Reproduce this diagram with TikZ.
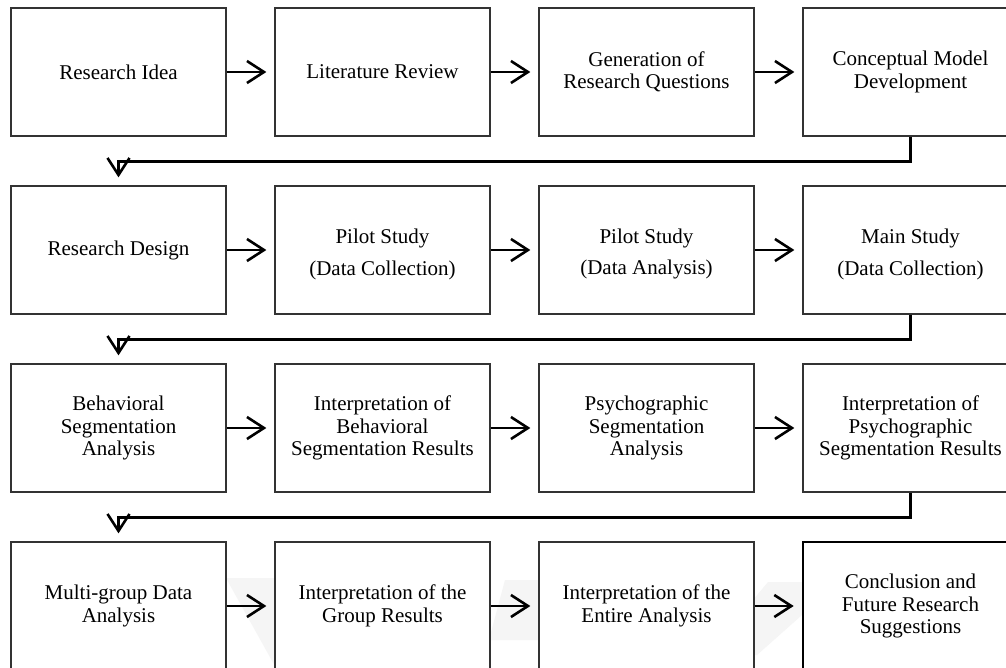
\documentclass[tikz,border=0pt]{standalone}
\usepackage{fontspec}
\setmainfont{Liberation Serif}
\usetikzlibrary{arrows.meta,calc}

\tikzset{
  stage/.style={rectangle, draw=black!80, line width=1.3pt, fill=white,
    minimum width=215pt, minimum height=128pt, inner sep=2pt, align=center,
    font=\fontsize{21}{22.5}\selectfont},
  finalstage/.style={stage, draw=black, line width=2.6pt},
  flow/.style={line width=2.6pt, black, shorten >=8pt,
    -{Straight Barb[length=17pt, width=22pt, line width=2.6pt]}},
  wmark/.style={fill=black!4, draw=none}
}
% strut that lowers a two-line label a little
\newcommand{\toplift}{\rule{0pt}{23pt}}

\begin{document}
\begin{tikzpicture}[x=1pt, y=-1pt]
\useasboundingbox (0,0) rectangle (1006,668);
\fill[white] (0,0) rectangle (1006,668);

% faint background emblem
\fill[wmark] (226,578) -- (300,578) -- (360,668) -- (276,668) -- cycle;
\fill[wmark] (505,580) -- (560,580) -- (540,640) -- (489,640) -- cycle;
\fill[wmark] (768,582) -- (802,582) -- (802,615) -- (757,655) -- (753,655) -- (753,600) -- cycle;

% row 1
\node[stage] (a1) at (118.5,72) {Research Idea};
\node[stage] (a2) at (382.5,72) {Literature Review};
\node[stage] (a3) at (646.5,72) {Generation of\\Research Questions};
\node[stage] (a4) at (910.5,72) {Conceptual Model\\Development};

% row 2
\node[stage] (b1) at (118.5,250) {Research Design};
\node[stage] (b2) at (382.5,250) {\toplift Pilot Study\\[9pt](Data Collection)};
\node[stage] (b3) at (646.5,250) {\toplift Pilot Study\\[9pt](Data Analysis)};
\node[stage] (b4) at (910.5,250) {\toplift Main Study\\[9pt](Data Collection)};

% row 3
\node[stage] (c1) at (118.5,428) {Behavioral\\Segmentation\\Analysis};
\node[stage] (c2) at (382.5,428) {Interpretation of\\Behavioral\\Segmentation Results};
\node[stage] (c3) at (646.5,428) {Psychographic\\Segmentation\\Analysis};
\node[stage] (c4) at (910.5,428) {Interpretation of\\Psychographic\\Segmentation Results};

% row 4
\node[stage] (d1) at (118.5,606) {Multi-group Data\\Analysis};
\node[stage] (d2) at (382.5,606) {Interpretation of the\\Group Results};
\node[stage] (d3) at (646.5,606) {Interpretation of the\\Entire Analysis};
\node[finalstage] (d4) at (910.5,606) {Conclusion and\\Future Research\\Suggestions};

% arrows along each row
\foreach \r in {a,b,c,d}{
  \draw[flow] (\r1.east) -- (\r2.west);
  \draw[flow] (\r2.east) -- (\r3.west);
  \draw[flow] (\r3.east) -- (\r4.west);
}

% links from the end of one row to the start of the next
\draw[flow] (a4.south) |- ($(b1.north)+(0,-24)$) -- (b1.north);
\draw[flow] (b4.south) |- ($(c1.north)+(0,-24)$) -- (c1.north);
\draw[flow] (c4.south) |- ($(d1.north)+(0,-24)$) -- (d1.north);
\end{tikzpicture}
\end{document}
